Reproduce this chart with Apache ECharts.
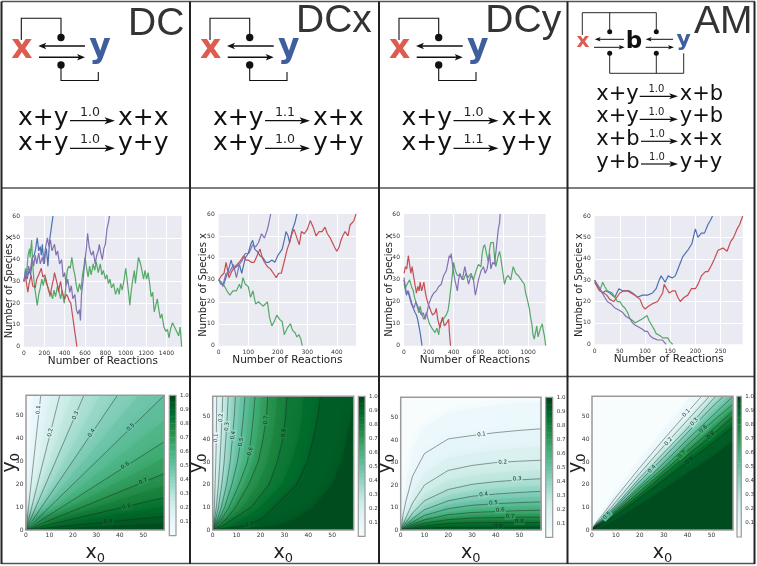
<!DOCTYPE html>
<html><head><meta charset="utf-8">
<style>html,body{margin:0;padding:0;background:#fff}#c{width:757px;height:566px}</style>
<script src="https://cdn.jsdelivr.net/npm/echarts@6/dist/echarts.min.js"></script>
</head><body><div id="c"></div>
<script>
// ---------- random-walk traces: [reactions, species x] ----------
const dcGreen=[[0,30],[15,36],[25,33],[40,42],[55,45],[60,41],[75,49],[85,38],[95,32],[105,27],[115,24],[130,19],[145,24],[160,27],[175,31],[190,28],[205,32],[220,29],[240,27],[255,23],[265,25],[280,22],[295,26],[310,23],[330,28],[345,25],[360,22],[375,26],[395,20],[410,27],[425,35],[440,37],[455,36],[470,41],[485,36],[500,33],[515,28],[530,25],[545,29],[560,26],[575,33],[590,37],[600,41],[615,36],[630,32],[645,37],[660,33],[680,38],[695,35],[710,39],[730,34],[750,38],[765,33],[780,35],[800,31],[815,33],[830,29],[845,31],[860,27],[880,29],[900,24],[920,27],[935,24],[950,29],[965,26],[985,31],[1000,36],[1015,30],[1030,24],[1040,19],[1055,26],[1070,31],[1085,35],[1095,29],[1110,35],[1125,41],[1140,39],[1155,36],[1175,31],[1190,35],[1205,31],[1220,34],[1235,29],[1250,23],[1265,25],[1280,16],[1295,19],[1310,22],[1325,17],[1340,13],[1355,15],[1375,9],[1395,7],[1410,8],[1425,4],[1440,8],[1460,11],[1480,9],[1500,7],[1520,5],[1535,9],[1545,3],[1550,0]];
const dcPurple=[[0,30],[15,35],[30,32],[45,37],[60,34],[80,41],[95,37],[110,42],[125,38],[145,43],[160,38],[180,41],[195,38],[210,45],[230,50],[245,46],[260,49],[275,44],[300,47],[315,42],[330,44],[350,38],[370,40],[385,32],[400,34],[415,28],[430,31],[450,25],[465,28],[480,22],[500,24],[515,17],[530,15],[545,17],[555,12],[565,24],[580,30],[600,40],[615,46],[625,52],[640,46],[655,43],[665,42],[680,44],[700,38],[715,42],[730,44],[740,47],[755,43],[770,40],[785,45],[800,47],[815,54],[830,57],[840,60]];
const dcBlue=[[0,30],[15,33],[30,31],[50,35],[65,33],[85,41],[100,42],[115,45],[130,50],[145,44],[160,46],[170,42],[180,47],[190,41],[200,38],[210,43],[220,45],[235,37],[245,44],[255,50],[270,55],[285,60]];
const dcRed=[[0,30],[12,33],[25,29],[38,25],[50,29],[70,33],[85,28],[110,27],[125,31],[145,33],[170,36],[185,32],[205,33],[220,30],[240,26],[260,24],[275,28],[290,31],[300,34],[315,31],[330,28],[340,25],[350,28],[360,30],[375,25],[390,23],[400,22],[415,24],[430,23],[445,21],[460,20],[475,15],[490,10],[505,5],[520,0]];
const dcxGreen=[[0,30],[8,29],[20,27],[28,25],[38,23],[48,25],[60,25],[70,28],[76,26],[82,31],[90,28],[100,27],[108,22],[116,25],[125,19],[135,20],[150,18],[158,19],[165,20],[172,13],[180,9],[188,11],[197,14],[206,12],[215,11],[222,5],[232,8],[243,10],[250,7],[258,6],[265,4],[272,5],[278,3],[283,0]];
const dcxRed=[[0,30],[10,32],[18,33],[25,38],[35,31],[45,34],[55,36],[70,38],[85,41],[92,39],[100,39],[110,38],[120,38],[130,41],[140,44],[148,40],[155,38],[165,36],[175,35],[185,33],[195,31],[203,33],[212,33],[225,40],[232,44],[240,47],[248,51],[255,53],[265,49],[273,46],[280,52],[290,51],[300,53],[310,57],[320,54],[330,50],[340,52],[350,52],[360,54],[368,51],[378,49],[385,47],[392,45],[400,43],[408,45],[414,48],[420,50],[428,52],[438,50],[445,55],[452,56],[458,57],[465,60]];
const dcxBlue=[[0,30],[8,29],[15,27],[22,30],[30,33],[36,36],[42,39],[50,35],[60,36],[70,37],[78,33],[90,40],[100,42],[108,46],[115,48],[122,44],[130,43],[140,41],[150,40],[160,38],[170,38],[180,39],[190,38],[200,41],[215,44],[222,48],[228,52],[235,50],[240,47],[250,53],[258,56],[265,60]];
const dcxPurple=[[0,30],[7,28],[15,28],[25,33],[35,33],[50,37],[60,31],[70,37],[80,39],[90,42],[102,42],[115,46],[125,45],[135,47],[145,51],[155,49],[165,53],[170,56],[176,60]];
const dcyRed=[[0,33],[12,36],[22,35],[35,41],[45,37],[55,33],[65,36],[75,36],[88,28],[100,24],[112,27],[122,25],[130,29],[142,25],[160,29],[170,25],[180,22],[195,19],[215,16],[230,14],[250,15],[260,17],[272,12],[290,8],[300,11],[310,13],[325,9],[340,10],[360,12],[366,6],[375,0]];
const dcyBlue=[[0,30],[10,26],[20,23],[30,25],[45,22],[60,19],[75,17],[90,15],[100,14],[110,12],[120,9],[130,6],[138,3],[145,0]];
const dcyGreen=[[0,28],[10,26],[25,28],[45,30],[60,27],[75,25],[85,22],[100,19],[120,15],[130,18],[145,14],[160,12],[180,15],[205,10],[225,8],[250,6],[265,8],[280,5],[290,10],[315,12],[340,14],[355,16],[365,20],[375,25],[385,30],[395,35],[400,38],[415,34],[430,32],[450,32],[480,30],[500,33],[515,31],[540,33],[560,30],[580,34],[600,37],[620,36],[630,42],[640,45],[650,46],[665,42],[680,38],[690,44],[700,47],[720,47],[730,40],[740,36],[755,40],[770,43],[780,40],[790,36],[800,32],[810,28],[825,31],[840,32],[860,30],[880,36],[900,33],[920,32],[945,30],[970,28],[980,24],[990,22],[1010,17],[1020,13],[1030,10],[1040,5],[1050,3],[1060,6],[1070,9],[1080,4],[1090,6],[1100,8],[1115,10],[1122,7],[1130,5],[1142,0]];
const dcyPurple=[[0,31],[10,27],[20,24],[35,25],[50,22],[65,19],[80,17],[95,20],[110,20],[125,16],[140,14],[155,15],[170,12],[185,15],[200,19],[220,22],[240,24],[260,25],[280,27],[300,28],[320,32],[340,34],[355,38],[365,41],[375,40],[380,42],[395,35],[410,30],[430,25],[440,30],[450,33],[470,30],[490,36],[505,32],[520,28],[540,32],[560,30],[575,23],[590,27],[600,30],[620,34],[640,36],[655,33],[670,35],[690,42],[700,35],[715,38],[730,37],[745,45],[760,53],[770,56],[775,60]];
const amBlue=[[0,30],[8,26],[15,24],[22,25],[30,24],[40,22],[48,26],[55,25],[60,25],[68,25],[75,24],[85,22],[95,23],[105,23],[115,24],[122,26],[128,30],[132,32],[140,29],[146,32],[154,31],[160,32],[165,35],[170,38],[175,41],[185,44],[193,47],[197,51],[200,54],[205,50],[212,52],[218,52],[225,56],[230,58],[234,60]];
const amRed=[[0,29],[10,25],[18,24],[24,23],[30,21],[38,20],[44,22],[50,24],[58,25],[65,25],[72,24],[80,23],[90,21],[95,18],[100,16.5],[108,18],[115,19],[125,20],[130,22],[135,24],[138,28],[143,26],[148,24],[155,25],[160,25],[165,22],[170,20],[178,22],[185,23],[192,26],[200,26],[205,28],[212,32],[220,34],[225,34],[232,37],[238,40],[245,44],[255,45],[263,43.5],[270,48],[276,50],[283,54],[288,56],[294,60]];
const amGreen=[[0,29],[5,27],[10,25],[16,29],[20,27],[25,25],[35,24],[40,22],[45,20],[50,20],[55,18],[60,17],[65,15],[70,12],[76,11],[80,10],[88,11],[95,12],[104,13.5],[108,11],[113,9],[118,7],[122,5],[130,4],[135,3],[141,3],[145,3],[150,1],[155,0]];
const amPurple=[[0,30],[8,27],[15,24],[20,22],[25,20],[32,19],[40,17],[48,16],[55,15],[62,13],[70,12],[75,10],[80,9],[88,8],[95,7],[100,6],[105,6],[110,4],[115,3],[125,2],[135,2],[138,1],[142,0]];

// ---------- heat maps: contour levels and contours ----------
const levels=[0.05,0.1,0.15,0.2,0.25,0.3,0.35,0.4,0.45,0.5,0.55,0.6,0.65,0.7,0.75,0.8,0.85,0.9,0.95];
// DC: each contour is a straight ray from the origin to this end point
const dcEnds=[[3,59],[6.3,59],[10.4,59],[14.4,59],[19.5,59],[24.7,59],[31.7,59],[39,59],[48,59],[59,59],[59,48],[59,38.7],[59,31.5],[59,24.7],[59,19.5],[59,14.2],[59,10.3],[59,6],[59,3]];
// DCx: x of each contour at these y values
const dcxY=[0,2,5,10,20,30,40,50,59];
const dcxX=[[0,.1,.2,.35,.5,.6,.7,.8,.9],[0,.2,.4,.7,1,1.3,1.5,1.6,1.7],[0,.3,.6,1.1,1.7,2.1,2.5,2.8,3],[0,.4,.8,1.5,2.4,3,3.5,3.9,4.2],[0,.5,1.05,1.9,3.1,3.9,4.5,5,5.3],[0,.6,1.3,2.4,3.8,4.8,5.5,6.1,6.5],[0,.75,1.6,3,4.8,6,6.8,7.5,8],[0,.9,2,3.6,5.8,7.3,8.2,9,9.5],[0,1.1,2.4,4.3,6.9,8.8,10,10.9,11.5],[0,1.3,2.8,5,8,10.3,11.8,12.8,13.5],[0,1.5,3.3,5.9,9.4,12.2,13.9,14.9,15.6],[0,1.8,3.8,6.8,11,14.5,16,17,17.7],[0,2.2,4.7,8,13,16.7,18.5,19.8,20.3],[0,2.8,5.8,9.5,15,19,21,22.5,23],[0,3.5,7,12.5,19,23,25,26.5,27],[0,4.5,8.6,16,23.5,27,29.3,30.5,31],[0,7.5,13,20,29,33,36,37.5,38],[0,14,20.5,25.5,35,39.5,42,44,45],[0,27,35,42,50,54,56,58,59]];
// DCy: y of each contour at these x values
const dcyX=[0,1,2,5,10,20,30,40,50,59];
const dcyY=[[0,12,20,36,46,52,54,55.5,56.5,57],[0,6.7,12,24,34,40.5,42,43.3,44.3,45],[0,4,7.5,16,25,32,34,35.5,36.5,37],[0,2.5,5,12,20,26.5,28.7,30,30.6,31],[0,2,3.8,9.5,16,22,24.2,25.4,26.2,26.6],[0,1.5,3,7.5,13,18,20.3,21.5,22.3,22.8],[0,1.2,2.4,6,11,15.3,17.4,18.5,19.2,19.8],[0,1,2,5,9,13,15,16,16.7,17.2],[0,.85,1.7,4.2,7.7,11.2,12.9,13.8,14.4,14.8],[0,.7,1.4,3.5,6.5,9.5,11,11.7,12.2,12.5],[0,.6,1.2,3,5.5,8,9.3,9.9,10.4,10.6],[0,.5,1,2.5,4.5,6.8,7.8,8.2,8.6,8.8],[0,.42,.85,2.1,3.7,5.6,6.5,6.8,7.1,7.2],[0,.35,.7,1.7,3,4.6,5.3,5.5,5.7,5.7],[0,.28,.55,1.3,2.4,3.7,4.2,4.4,4.5,4.5],[0,.2,.4,1,1.8,2.9,3.2,3.3,3.3,3.3],[0,.15,.3,.75,1.3,2,2.2,2.2,2.3,2.3],[0,.1,.2,.5,.9,1.2,1.2,1.2,1.2,1.3],[0,.05,.1,.25,.45,.55,.55,.5,.5,.5]];
// AM: y of each contour at these x values
const amX=[0,2,5,10,20,30,40,50,59];
const amY=[[0,4.5,9,17,31,44,57,70,81],[0,3.5,7.5,14.5,27.5,40,52,64,75],[0,3.2,6.9,13.5,26,38.5,50,62,72.5],[0,3,6.3,12.5,25,37,48.5,60,70],[0,2.7,5.9,11.7,24,35.5,46.8,58.5,68],[0,2.5,5.5,11,23,34,45,57,66.5],[0,2.3,5.2,10.6,22.2,33,44,55.5,64.8],[0,2.2,5,10.3,21.5,32,43,54,63],[0,2.1,4.7,9.9,20.5,30.7,41.5,52,61],[0,2,4.5,9.5,19.5,29.5,40,50,59],[0,1.9,4.3,9.1,19,28.5,38.7,48.7,57.2],[0,1.8,4.1,8.7,18.5,27.5,37.5,47.5,55.5],[0,1.7,3.9,8.3,17.7,26.7,36.2,45.7,54],[0,1.6,3.8,8,17,26,35,44,52.5],[0,1.5,3.6,7.6,16.2,25.2,34,42.7,51.2],[0,1.4,3.5,7.2,15.5,24.5,33,41.5,50],[0,1.3,3.2,6.8,14.8,23.2,31.5,39.8,47.7],[0,1.2,3,6.3,14,22,30,38,45.5],[0,.8,2,4.5,11,18,25,32,39]];
// contour labels: x, y, text, rotation in degrees
const dcLabels=[[5.3,52.7,'0.1',85],[10.4,42.7,'0.2',80],[21.2,50.2,'0.3',67],[28,42.5,'0.4',58],[44.7,45,'0.5',45],[42.3,28.2,'0.6',33],[50,21.2,'0.7',22],[42.9,10.2,'0.8',13],[35,3.6,'0.9',5]];
const dcxLabels=[[1.4,40.7,'0.1',88],[3.5,49.5,'0.2',87],[6,45.7,'0.3',85],[8.6,41.8,'0.4',80],[11.9,38.8,'0.5',80],[15.8,34.7,'0.6',75],[22.3,48.5,'0.7',85],[29.8,42.8,'0.8',83],[15.3,2.4,'0.9',15]];
const dcyLabels=[[34,42.5,'0.1',8],[42.9,30.1,'0.2',5],[48.9,22.7,'0.3',3],[34.9,15.8,'0.4',8],[39,12,'0.5',5],[41.9,8.8,'0.6',4],[46,6,'0.7',2],[49.9,3.6,'0.8',0],[41,1.5,'0.9',0]];
const amLabels=[[39.5,51.6,'0.1',48],[32,39,'0.2',50],[42.8,47.7,'0.3',48],[25.1,26.9,'0.4',48],[6.3,6.3,'0.5',45],[46.7,44.5,'0.6',45],[37.7,33.3,'0.7',45],[49.8,41.7,'0.8',42],[40.9,30.5,'0.9',40]];
// ---------- tick and text ----------
const speciesTicks=[0,10,20,30,40,50,60];
const titles=['DC','DCx','DCy','AM'];
const rampColors=['#f7fcfd','#e5f5f9','#ccece6','#99d8c9','#66c2a4','#41ae76','#238b45','#006d2c','#00441b'];
const walkColors={blue:'#4C72B0',green:'#55A868',red:'#C44E52',purple:'#8172B2'};

function ramp(v){v=Math.max(0,Math.min(1,v));const f=v*8,i=Math.min(7,Math.floor(f)),t=f-i;
  const a=rampColors[i],b=rampColors[i+1],c=k=>{const p=parseInt(a.substr(k,2),16),q=parseInt(b.substr(k,2),16);return Math.round(p+(q-p)*t)};
  return 'rgb('+c(1)+','+c(3)+','+c(5)+')';}

const grids=[],xAxes=[],yAxes=[],series=[];
const tickFont={fontFamily:'DejaVu Sans',fontSize:6,color:'#333'};
function addGrid(g){grids.push(g);return grids.length-1;}

// walk panels
function walkPanel(box,xMax,xStep,traces){
  const i=addGrid({left:box[0],top:box[1],width:box[2]-box[0],height:box[3]-box[1],show:true,backgroundColor:'#EAEAF2',borderWidth:0,containLabel:false});
  xAxes.push({gridIndex:i,type:'value',min:0,max:xMax,interval:xStep,axisLine:{show:false},axisTick:{show:false},
    splitLine:{show:true,showMaxLine:false,showMinLine:false,lineStyle:{color:'#fff',width:1}},
    axisLabel:{...tickFont,margin:4,showMaxLabel:false,formatter:v=>String(v)},name:'Number of Reactions',nameLocation:'middle',nameGap:9,nameMoveOverlap:false,
    nameTextStyle:{fontFamily:'DejaVu Sans',fontSize:10.5,color:'#222',verticalAlign:'top'}});
  yAxes.push({gridIndex:i,type:'value',min:speciesTicks[0],max:speciesTicks[6],interval:10,axisLine:{show:false},axisTick:{show:false},
    splitLine:{show:true,showMaxLine:false,showMinLine:false,lineStyle:{color:'#fff',width:1}},
    axisLabel:{...tickFont,margin:4},name:'Number of Species x',nameLocation:'middle',nameGap:10,nameMoveOverlap:false,
    nameTextStyle:{fontFamily:'DejaVu Sans',fontSize:10,color:'#222',padding:[0,10,0,0]}});
  traces.forEach(([name,data])=>series.push({type:'line',name,xAxisIndex:i,yAxisIndex:i,data,showSymbol:false,silent:true,clip:true,
    lineStyle:{color:walkColors[name],width:1.2},itemStyle:{color:walkColors[name]}}));
}
walkPanel([24,216,181.7,346.7],1550,200,[['blue',dcBlue],['green',dcGreen],['red',dcRed],['purple',dcPurple]]);
walkPanel([218.7,214,356,345.7],465,100,[['blue',dcxBlue],['green',dcxGreen],['red',dcxRed],['purple',dcxPurple]]);
walkPanel([404,214,545.7,345.7],1142,200,[['blue',dcyBlue],['green',dcyGreen],['red',dcyRed],['purple',dcyPurple]]);
walkPanel([594.7,216,742.7,344.3],294,50,[['blue',amBlue],['green',amGreen],['red',amRed],['purple',amPurple]]);

function frameSeries(i,xMax,yMax,yMin,width){
  return {type:'custom',xAxisIndex:i,yAxisIndex:i,clip:false,silent:true,z:4,data:[[0,yMin]],
    renderItem:(p,api)=>{const a=api.coord([0,yMin]),b=api.coord([xMax,yMax]);
      return {type:'rect',shape:{x:a[0],y:b[1],width:b[0]-a[0],height:a[1]-b[1]},style:{fill:null,stroke:'#9a9a9a',lineWidth:width}};}};
}
// heat-map panels
function heatPanel(box,bar,contours,labels,soft){
  const i=addGrid({left:box[0],top:box[1],width:box[2]-box[0],height:box[3]-box[1],show:true,backgroundColor:ramp(0),borderWidth:0});
  const nameStyle={fontFamily:'DejaVu Sans',color:'#222',rich:{v:{fontFamily:'DejaVu Sans',fontSize:19,color:'#222'},s:{fontFamily:'DejaVu Sans',fontSize:13,color:'#222',padding:[10,0,0,0]}}};
  xAxes.push({gridIndex:i,type:'value',min:0,max:59,interval:10,axisLine:{show:false},axisTick:{show:false},splitLine:{show:false},
    axisLabel:{...tickFont,margin:2.5,showMaxLabel:false},name:'{v|x}{s|0}',nameLocation:'middle',nameGap:12,nameMoveOverlap:false,nameTextStyle:nameStyle});
  yAxes.push({gridIndex:i,type:'value',min:0,max:59,interval:10,axisLine:{show:false},axisTick:{show:false},splitLine:{show:false},
    axisLabel:{...tickFont,margin:2.5,showMaxLabel:false},name:'{v|y}{s|0}',nameLocation:'middle',nameGap:4,nameMoveOverlap:false,nameTextStyle:nameStyle});
  series.push({type:'custom',xAxisIndex:i,yAxisIndex:i,clip:true,silent:true,z:1,data:contours.map((c,k)=>[k,levels[k]]),
    renderItem:(p,api)=>{const k=api.value(0),c=contours[k],l=c[c.length-1],pts=c.slice();
      if(l[0]<59)pts.push([59,l[1]]);pts.push([59,0]);
      const col=ramp(levels[k]+0.025);
      return {type:'polygon',shape:{points:pts.map(q=>api.coord(q))},style:{fill:col,shadowBlur:soft,shadowColor:col}};}});
  contours.forEach((c,k)=>{ if(k%2===1) series.push({type:'line',xAxisIndex:i,yAxisIndex:i,data:c,showSymbol:false,silent:true,clip:true,z:2,
    lineStyle:{color:'rgba(25,35,30,.62)',width:.7}}); });
  series.push({type:'custom',xAxisIndex:i,yAxisIndex:i,clip:true,silent:true,z:3,data:labels.map((l,k)=>[l[0],l[1],k]),
    renderItem:(p,api)=>{const l=labels[api.value(2)],c=api.coord([l[0],l[1]]);
      return {type:'text',x:c[0],y:c[1],rotation:l[3]*Math.PI/180,style:{text:l[2],fontFamily:'DejaVu Sans',fontSize:5.5,fill:'#1c2a22',align:'center',verticalAlign:'middle',
        backgroundColor:ramp(+l[2]),padding:[0,1]}};}});
  series.push(frameSeries(i,59,59,0,1.5));
  // colour bar
  const b=addGrid({left:bar[0],top:box[1],width:bar[1]-bar[0],height:box[3]-box[1],show:true,backgroundColor:'#fff',borderWidth:0});
  xAxes.push({gridIndex:b,type:'value',min:0,max:1,show:false});
  yAxes.push({gridIndex:b,type:'value',position:'right',min:0,max:1,interval:0.1,axisLine:{show:false},axisTick:{show:false},splitLine:{show:false},
    axisLabel:{...tickFont,fontSize:5.5,margin:4,showMinLabel:false,formatter:v=>v.toFixed(1)}});
  const steps=[];for(let v=0;v<1;v+=0.025)steps.push(+v.toFixed(3));
  series.push({type:'custom',xAxisIndex:b,yAxisIndex:b,clip:true,silent:true,z:1,data:steps.map(v=>[0,v]),
    renderItem:(p,api)=>{const v=api.value(1),a=api.coord([0,v]),e=api.coord([1,v+0.025]);
      const col=ramp(v+0.0125);
      return {type:'rect',shape:{x:a[0],y:e[1],width:e[0]-a[0],height:a[1]-e[1]+.4},style:{fill:col}};}});
  series.push(frameSeries(b,1,1,0,1.2));
}
const zip=(ks,vs,swap)=>ks.map((k,j)=>swap?[vs[j],k]:[k,vs[j]]);
heatPanel([24,395.3,164.3,535.7],[169.3,176],dcEnds.map(e=>[[0,0],e]),dcLabels,14);
heatPanel([212.7,396.3,353.7,536.3],[358.3,365],dcxX.map(r=>zip(dcxY,r,true)),dcxLabels,8);
heatPanel([400.7,397.3,541,537.3],[545.7,552.7],dcyY.map(r=>zip(dcyX,r,false)),dcyLabels,7);
heatPanel([592,396.3,733,537],[737,744],amY.map(r=>zip(amX,r,false)),amLabels,3);

// ---------- reaction-network diagrams ----------
const G=[];
const ink='#111';
function poly(pts,w){G.push({type:'polyline',silent:true,z:20,shape:{points:pts},style:{stroke:ink,lineWidth:w||1.1,fill:null}});}
function dot(x,y,r){G.push({type:'circle',silent:true,z:20,shape:{cx:x,cy:y,r},style:{fill:ink}});}
function arrow(x1,x2,y,w,hl,hw){const d=x2>x1?1:-1;
  G.push({type:'line',silent:true,z:20,shape:{x1,y1:y,x2:x2-d*hl*.6,y2:y},style:{stroke:ink,lineWidth:w}});
  G.push({type:'polygon',silent:true,z:20,shape:{points:[[x2,y],[x2-d*hl,y-hw],[x2-d*hl*.75,y],[x2-d*hl,y+hw]]},style:{fill:ink}});}
// y is the text baseline
function txt(text,x,y,size,fill,weight,family,align){G.push({type:'text',silent:true,z:20,x,y:y-.346*size,style:{text,fontFamily:family||'DejaVu Sans',fontSize:size,fontWeight:weight||'normal',fill:fill||'#111',align:align||'left',verticalAlign:'middle'}});}
const RED='#DE5B4F',BLUE='#3E5E9E';

function twoNode(o){
  poly([[o+21.3,40],[o+21.3,18.3],[o+61,18.3],[o+61,37]]);dot(o+61,37.5,3.7);
  arrow(o+85,o+38.3,46,1.5,8,3.2);arrow(o+39,o+85,57.3,1.5,8,3.2);
  dot(o+61,65,3.7);poly([[o+61,65],[o+61,80.5],[o+98.3,80.5],[o+98.3,72]]);
  txt('x',o+22,61,33,RED,'bold','DejaVu Sans','center');
  txt('y',o+100,60,33,BLUE,'bold','DejaVu Sans','center');
}
function eq(o,base,left,right,rate,arrowY,size,x1,x2,rateSize,rightX,labelY){
  txt(left,o,base,size);
  arrow(x1,x2,arrowY,1.2,size*.42,size*.14);
  txt(rate,(x1+x2-5)/2,labelY,rateSize,'#222',null,null,'center');
  txt(right,rightX,base,size);
}
function twoEq(o,r1,r2){
  eq(o,126.7,'x+y','x+x',r1,120.7,25,o+52,o+97,12.6,o+100,117);
  eq(o,151.7,'x+y','y+y',r2,148.3,25,o+52,o+97,12.6,o+100,144.5);
}
twoNode(0);twoEq(18,'1.0','1.0');
twoNode(188.7);twoEq(213,'1.1','1.0');
twoNode(377.7);twoEq(401.5,'1.0','1.1');
txt(titles[0],128,38,39,'#333',null,'Liberation Sans');
txt(titles[1],296,35,39,'#333',null,'Liberation Sans');
txt(titles[2],485.3,35,39,'#333',null,'Liberation Sans');
txt(titles[3],694,36,39,'#333',null,'Liberation Sans');
// AM diagram
poly([[582.3,35],[582.3,12.7],[656.3,12.7],[656.3,31.7]],.9);poly([[609.7,12.7],[609.7,31.7]],.9);
dot(609.7,31.7,2.5);dot(656.3,31.7,2.5);dot(609.7,53.3,2.5);dot(656.3,53.3,2.5);
poly([[609.7,53.3],[609.7,73.3],[683.7,73.3],[683.7,53.3]],.9);poly([[656.3,53.3],[656.3,73.3]],.9);
arrow(624,594.7,39.3,1,6,2.2);arrow(594,624.7,47.3,1,6,2.2);arrow(673,645.7,39.3,1,6,2.2);arrow(645.7,674,47.3,1,6,2.2);
txt('x',583,48.3,20,RED,'bold',null,'center');txt('b',634,50,23,'#111','bold',null,'center');txt('y',683.7,48,22,BLUE,'bold',null,'center');
[[101.7,'x+y','x+b',96.3,639.7],[124,'x+y','y+b',119.3,639.7],[146.7,'x+b','x+x',141.3,641],[170,'y+b','y+y',164,641]].forEach(r=>{
  eq(596.3,r[0],r[1],r[2],'1.0',r[3],21,r[4],678,10,679.7,r[3]-3);
});
// panel frame: vertical rules heavier than horizontal ones
[[1.5,1.5,755,1.5],[1.5,188,755,188],[1.5,376.5,755,376.5],[1.5,563.5,755,563.5]].forEach(l=>
  G.push({type:'line',silent:true,z:29,shape:{x1:l[0],y1:l[1],x2:l[2],y2:l[3]},style:{stroke:'#555',lineWidth:1.5}}));
[[1.5,1.5,1.5,564],[190,1.5,190,564],[379,1.5,379,564],[567.5,1.5,567.5,564],[754.5,1.5,754.5,564]].forEach(l=>
  G.push({type:'line',silent:true,z:30,shape:{x1:l[0],y1:l[1],x2:l[2],y2:l[3]},style:{stroke:'#222',lineWidth:2}}));

const chart=echarts.init(document.getElementById('c'),null,{renderer:'canvas'});
chart.setOption({animation:false,backgroundColor:'#fff',tooltip:{show:false},legend:{show:false},grid:grids,xAxis:xAxes,yAxis:yAxes,series,graphic:{elements:G}});
</script></body></html>
